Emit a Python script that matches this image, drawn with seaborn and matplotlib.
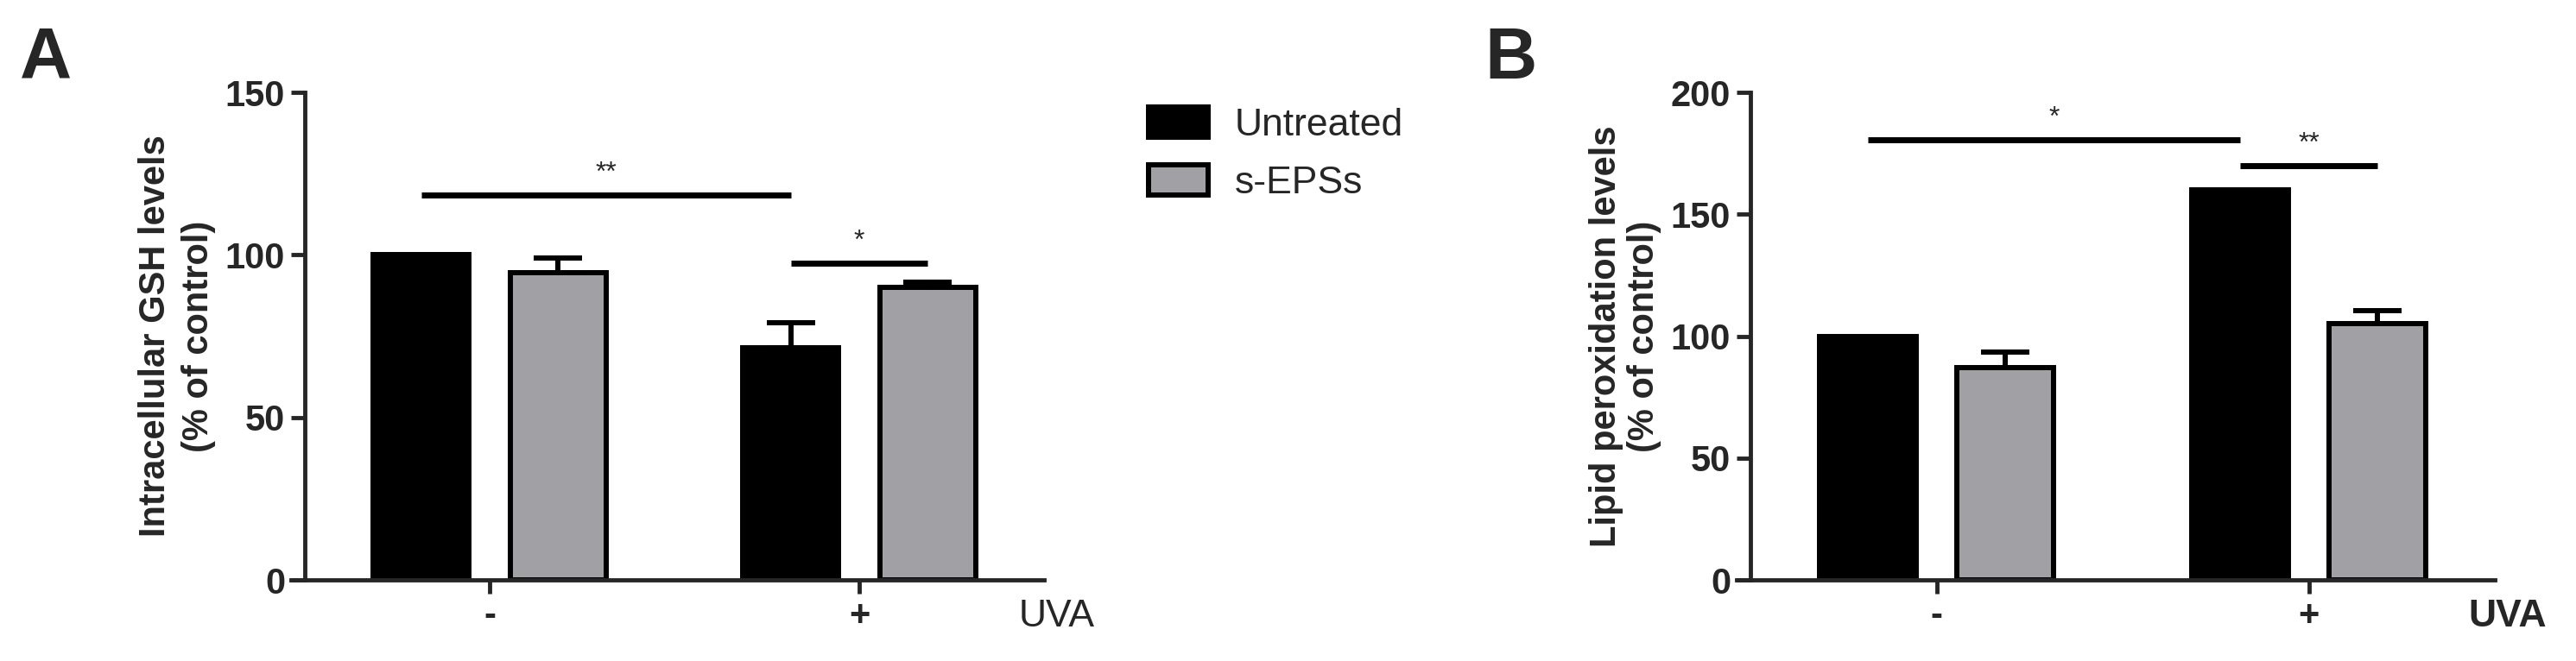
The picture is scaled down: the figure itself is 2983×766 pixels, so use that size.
import numpy as np
import pandas as pd
import matplotlib
matplotlib.use('Agg')
import matplotlib.pyplot as plt
import seaborn as sns

uva = ['-', '+']
treatments = ['Untreated', 's-EPSs']

gsh_untreated = [100, 71.5]
gsh_seps = [94.5, 90]
gsh_untreated_err = [0, 7.5]
gsh_seps_err = [4.5, 1.5]

lipid_untreated = [100, 160]
lipid_seps = [87, 105]
lipid_untreated_err = [0, 0]
lipid_seps_err = [6.5, 5.5]

sns.set_style('ticks')
plt.rcParams['font.family'] = ['Liberation Sans', 'DejaVu Sans']

black = '#000000'
grey = '#A1A0A5'
W, H = 2983, 766
fig = plt.figure(figsize=(W / 100, H / 100), dpi=100)


def panel(ax, untreated, seps, unt_err, seps_err, ymax, ylabel, sig, uva_weight, lsp):
    df = pd.DataFrame({
        'UVA': uva * 2,
        'treatment': [treatments[0]] * 2 + [treatments[1]] * 2,
        'value': untreated + seps,
    })
    sns.barplot(data=df, x='UVA', y='value', hue='treatment', order=uva,
                hue_order=treatments, palette=[black, grey], errorbar=None,
                width=0.74, gap=0.3, edgecolor='black', linewidth=4.3,
                saturation=1, legend=False, ax=ax, zorder=3)
    # error bars (upper only)
    centers = []
    for cont, errs in zip(ax.containers, [unt_err, seps_err]):
        cs = []
        for bar, e in zip(cont, errs):
            x = bar.get_x() + bar.get_width() / 2
            cs.append(x)
            if e > 0:
                ax.errorbar(x, bar.get_height(), yerr=[[0], [e]], color='black',
                            elinewidth=4.3, capsize=20, capthick=4.3, zorder=2)
        centers.append(cs)
    # significance brackets
    for (i1, j1), (i2, j2), y, txt in sig:
        x1 = centers[i1][j1]
        x2 = centers[i2][j2]
        ax.plot([x1, x2], [y, y], color='black', lw=5, solid_capstyle='butt', zorder=4)
        ax.text((x1 + x2) / 2, y + ymax * 0.018, txt, ha='center', va='bottom', fontsize=23)
    ax.set_xlim(-0.5, 1.5)
    ax.set_ylim(0, ymax)
    ax.set_yticks(np.arange(0, ymax + 1, 50))
    ax.set_xlabel('')
    ax.set_ylabel(ylabel, fontsize=30, fontweight='bold', labelpad=8, linespacing=lsp)
    for lab in ax.get_yticklabels() + ax.get_xticklabels():
        lab.set_fontweight('bold')
    ax.tick_params(axis='y', labelsize=30, length=11.5, width=3.5, pad=5)
    ax.tick_params(axis='x', labelsize=30, length=11.5, width=3.5, pad=4)
    sns.despine(ax=ax)
    ax.spines['left'].set_linewidth(3.5)
    ax.spines['bottom'].set_linewidth(3.5)
    ax.spines['bottom'].set_bounds(-0.5375, 1.5)
    ax.spines['bottom'].set_zorder(5)
    ax.text(1.0175, -0.076, 'UVA', transform=ax.transAxes, ha='center', va='center',
            fontsize=32, fontweight=uva_weight)


axA = fig.add_axes([353 / W, 1 - 672 / H, (1209 - 353) / W, (672 - 107) / H])
panel(axA, gsh_untreated, gsh_seps, gsh_untreated_err, gsh_seps_err, 150,
      'Intracellular GSH levels\n(% of control)',
      [((0, 0), (0, 1), 118.4, '**'), ((0, 1), (1, 1), 97.4, '*')], 'normal', 1.3)

axB = fig.add_axes([2027 / W, 1 - 672 / H, (2889 - 2027) / W, (672 - 107) / H])
panel(axB, lipid_untreated, lipid_seps, lipid_untreated_err, lipid_seps_err, 200,
      'Lipid peroxidation levels\n(% of control)',
      [((0, 0), (0, 1), 180.6, '*'), ((0, 1), (1, 1), 169.9, '**')], 'bold', 1.1)

fig.text(23 / W, 1 - 91 / H, 'A', fontsize=60, fontweight='bold', ha='left', va='baseline')
fig.text(1719 / W, 1 - 91 / H, 'B', fontsize=60, fontweight='bold', ha='left', va='baseline')

handles = [plt.Rectangle((0, 0), 1, 1, facecolor=black, edgecolor='black', linewidth=4.3),
           plt.Rectangle((0, 0), 1, 1, facecolor=grey, edgecolor='black', linewidth=4.3)]
fig.legend(handles, treatments, loc='upper left', bbox_to_anchor=(1330 / W, 1 - 124 / H),
           frameon=False, fontsize=32, borderpad=0, borderaxespad=0,
           handlelength=1.55, handleheight=0.85, handletextpad=0.7, labelspacing=0.55)

fig.savefig('out.png', dpi=100)
